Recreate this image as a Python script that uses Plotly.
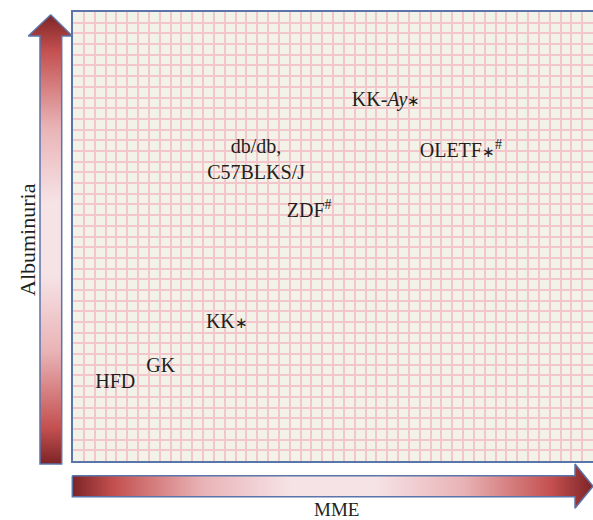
import plotly.graph_objects as go

# ---- data (grid units: MME along x, albuminuria along y) ----
AST = '<span style="font-size:15px">∗</span>'
labels = ["HFD", "GK", "KK" + AST, "ZDF<sup>#</sup>", "db/db,<br>C57BLKS/J",
          "KK-<i>Ay</i>" + AST, "OLETF" + AST + "<sup>#</sup>"]
mme = [3.9, 8.1, 14.2, 21.8, 16.9, 28.9, 35.8]
albuminuria = [7.3, 8.8, 12.9, 23.3, 28.1, 33.7, 28.9]
x_title = "MME"
y_title = "Albuminuria"

# ---- layout constants (pixels) ----
W, H = 593, 520
PL, PT, PR, PB = 73, 12, 593, 461
NX, NY = 48, 42

dark, red, pink, light = "#7d2427", "#c4504f", "#e9b3b6", "#f6e3e6"
arrow_scale = [[0, dark], [0.08, red], [0.25, pink], [0.42, light],
               [0.58, light], [0.75, pink], [0.92, red], [1, dark]]
edge = "#5b74a9"
FONT = "Liberation Serif"

fig = go.Figure()

fig.add_trace(go.Scatter(
    x=mme, y=albuminuria, mode="text", text=labels,
    textposition="middle center", cliponaxis=False, hoverinfo="skip",
    textfont=dict(family=FONT, size=20, color="#231f20"),
    xaxis="x", yaxis="y", showlegend=False))

# vertical arrow (albuminuria)
vx = [50.7, 72.3, 61.7, 61.7, 40, 40, 28.3, 50.7]
vy = [14.7, 36, 36, 464, 464, 36, 36, 14.7]
fig.add_trace(go.Scatter(
    x=vx, y=vy, mode="lines", fill="toself",
    line=dict(color=edge, width=1.5),
    fillgradient=dict(type="vertical", colorscale=arrow_scale, start=14.7, stop=464),
    xaxis="x2", yaxis="y2", hoverinfo="skip", showlegend=False))

# horizontal arrow (MME)
hx = [72.3, 575, 575, 593, 575, 575, 72.3, 72.3]
hy = [475.7, 475.7, 464, 486.2, 508.3, 496.7, 496.7, 475.7]
fig.add_trace(go.Scatter(
    x=hx, y=hy, mode="lines", fill="toself",
    line=dict(color=edge, width=1.5),
    fillgradient=dict(type="horizontal", colorscale=arrow_scale, start=72.3, stop=593),
    xaxis="x2", yaxis="y2", hoverinfo="skip", showlegend=False))

fig.update_layout(
    width=W, height=H, margin=dict(l=0, r=0, t=0, b=0),
    paper_bgcolor="white", plot_bgcolor="rgba(0,0,0,0)",
    xaxis=dict(domain=[PL / W, PR / W], range=[0, NX], dtick=1, tick0=0,
               showgrid=True, gridcolor="#f3c6cb", gridwidth=2,
               showticklabels=False, ticks="", zeroline=False,
               showline=True, linecolor=edge, linewidth=1.5, mirror=True,
               anchor="y", fixedrange=True),
    yaxis=dict(domain=[(H - PB) / H, (H - PT) / H], range=[0, NY], dtick=1, tick0=0,
               showgrid=True, gridcolor="#f3c6cb", gridwidth=2,
               showticklabels=False, ticks="", zeroline=False,
               showline=True, linecolor=edge, linewidth=1.5,
               anchor="x", fixedrange=True),
    xaxis2=dict(domain=[0, 1], range=[0, W], visible=False, anchor="y2", fixedrange=True),
    yaxis2=dict(domain=[0, 1], range=[H, 0], visible=False, anchor="x2", fixedrange=True),
    shapes=[dict(type="rect", xref="paper", yref="paper",
                 x0=PL / W, x1=PR / W, y0=(H - PB) / H, y1=(H - PT) / H,
                 fillcolor="#f3f2e8", line=dict(width=0), layer="below")],
    annotations=[
        dict(text=y_title, xref="paper", yref="paper", x=27 / W, y=1 - 240 / H,
             textangle=-90, showarrow=False, xanchor="center", yanchor="middle",
             font=dict(family=FONT, size=22, color="#231f20")),
        dict(text=x_title, xref="paper", yref="paper", x=336 / W, y=1 - 509 / H,
             showarrow=False, xanchor="center", yanchor="middle",
             font=dict(family=FONT, size=19, color="#231f20")),
    ],
)

fig.write_html("out.html", config={"displayModeBar": False},
               post_script="document.body.style.margin='0';document.body.style.overflow='hidden';")
